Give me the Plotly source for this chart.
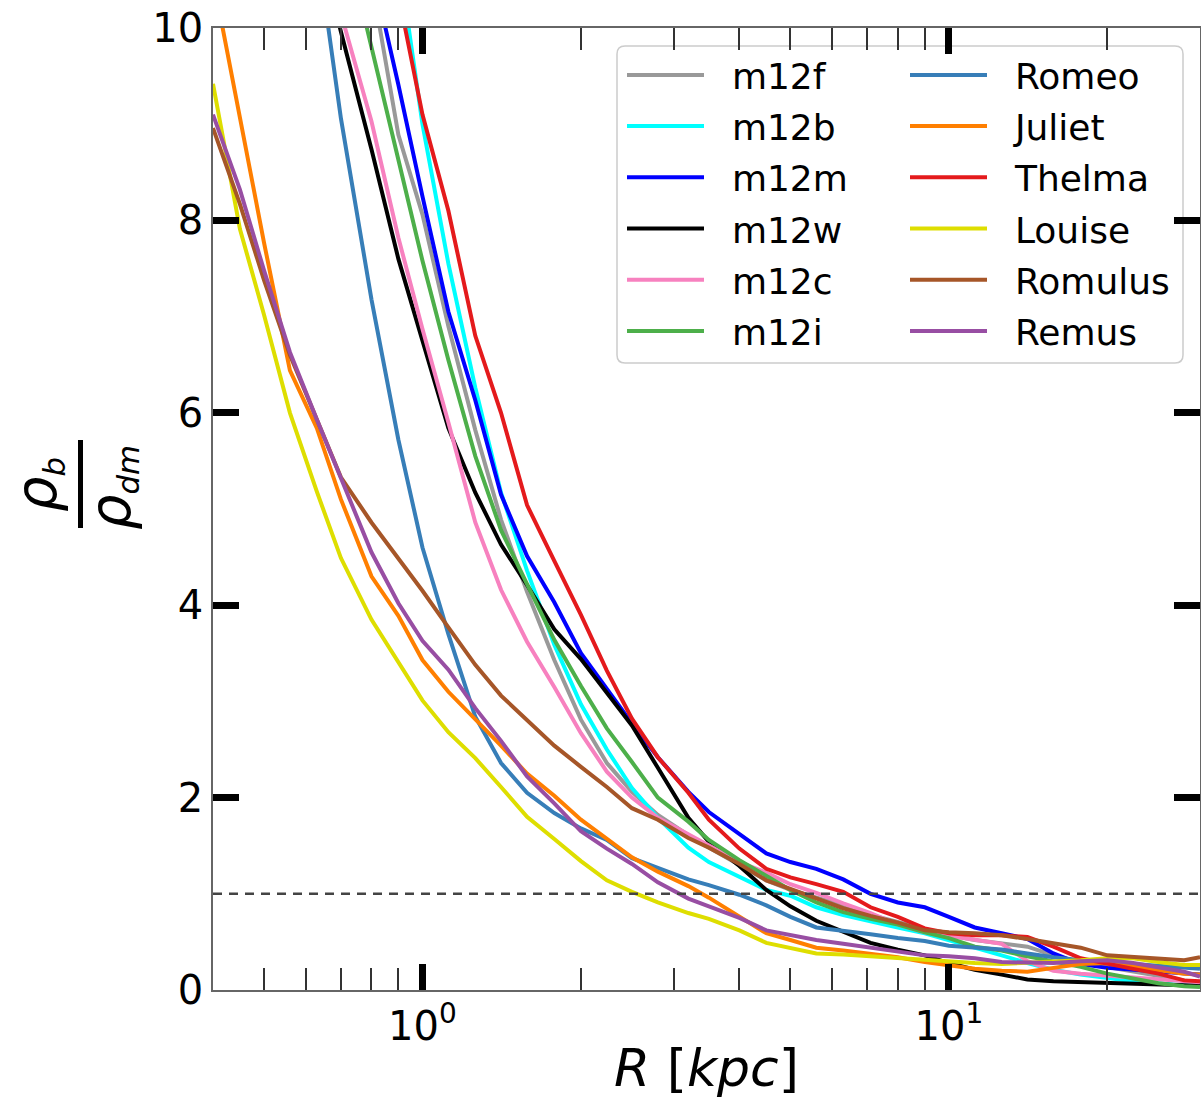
import plotly.graph_objects as go

# ---------------- data ----------------
R_kpc = [0.4, 0.45, 0.5, 0.56, 0.63, 0.7, 0.8, 0.9, 1.0, 1.12, 1.26, 1.41, 1.58,
         1.78, 2.0, 2.24, 2.5, 2.8, 3.2, 3.5, 4.0, 4.5, 5.0, 5.6, 6.3, 7.1, 8.0,
         9.0, 10.0, 11.2, 12.6, 14.1, 15.8, 17.8, 20.0, 22.4, 25.0, 28.0, 30.0]

m12f = [None, None, None, None, None, None,
        10.5, 8.89, 8.06, 6.9, 5.82, 4.89, 4.14, 3.43, 2.81, 2.36, 2.06, 1.82, 1.61,
        1.48, 1.3, 1.14, 1.04, 0.96, 0.88, 0.78, 0.71, 0.64, 0.57, 0.52, 0.48, 0.45,
        0.36, 0.29, 0.24, 0.19, 0.15, 0.1, 0.08]
m12b = [None, None, None, None, None, None, None,
        10.75, 9.0, 7.55, 6.26, 5.17, 4.36, 3.59, 2.97, 2.5, 2.1, 1.79, 1.48, 1.33,
        1.17, 1.04, 0.98, 0.86, 0.78, 0.72, 0.65, 0.59, 0.52, 0.44, 0.36, 0.28, 0.21,
        0.16, 0.12, 0.09, 0.07, 0.05, 0.05]
m12m = [None, None, None, None, None, None,
        10.64, 9.41, 8.25, 7.05, 6.13, 5.15, 4.51, 4.03, 3.5, 3.13, 2.77, 2.42, 2.06,
        1.85, 1.62, 1.42, 1.33, 1.26, 1.15, 1.0, 0.91, 0.86, 0.76, 0.65, 0.59, 0.53,
        0.38, 0.27, 0.23, 0.21, 0.19, 0.17, 0.16]
m12w = [None, None, None, None,
        10.98, 9.96, 8.74, 7.6, 6.75, 5.84, 5.17, 4.63, 4.21, 3.75, 3.44, 3.09, 2.75,
        2.31, 1.79, 1.54, 1.29, 1.04, 0.87, 0.72, 0.61, 0.49, 0.42, 0.36, 0.28, 0.21,
        0.16, 0.11, 0.09, 0.08, 0.07, 0.06, 0.05, 0.05, 0.05]
m12c = [None, None, None, None, None,
        10.15, 9.03, 7.82, 6.87, 5.9, 4.86, 4.16, 3.62, 3.15, 2.67, 2.27, 2.0, 1.79,
        1.62, 1.51, 1.33, 1.22, 1.1, 1.01, 0.9, 0.8, 0.68, 0.6, 0.56, 0.52, 0.48, 0.3,
        0.2, 0.17, 0.15, 0.13, 0.11, 0.09, 0.08]
m12i = [None, None, None, None, None,
        11.13, 9.82, 8.63, 7.58, 6.55, 5.55, 4.78, 4.22, 3.64, 3.16, 2.72, 2.37, 2.0,
        1.75, 1.56, 1.35, 1.19, 1.04, 0.91, 0.81, 0.74, 0.68, 0.6, 0.54, 0.45, 0.41,
        0.35, 0.3, 0.24, 0.17, 0.12, 0.07, 0.04, 0.03]
Romeo = [None, None, None, None,
         10.86, 9.06, 7.18, 5.72, 4.6, 3.7, 2.84, 2.36, 2.05, 1.84, 1.68, 1.56, 1.37,
         1.27, 1.15, 1.09, 0.99, 0.88, 0.76, 0.65, 0.62, 0.58, 0.54, 0.51, 0.46, 0.44,
         0.42, 0.38, 0.34, 0.31, 0.29, 0.27, 0.25, 0.23, 0.22]
Juliet = [10.52, 9.06, 7.77, 6.44, 5.84, 5.1, 4.3, 3.89, 3.43, 3.1, 2.82, 2.54, 2.25,
          2.02, 1.77, 1.57, 1.38, 1.23, 1.08, 0.96, 0.76, 0.59, 0.52, 0.44, 0.41, 0.37,
          0.34, 0.29, 0.26, 0.22, 0.2, 0.19, 0.23, 0.27, 0.28, 0.24, 0.2, 0.17, 0.16]
Thelma = [None, None, None, None, None, None, None,
          10.35, 9.1, 8.1, 6.8, 6.0, 5.04, 4.46, 3.9, 3.32, 2.82, 2.42, 2.05, 1.77,
          1.47, 1.26, 1.17, 1.1, 1.02, 0.86, 0.76, 0.64, 0.59, 0.57, 0.57, 0.55, 0.45,
          0.33, 0.27, 0.22, 0.17, 0.1, 0.09]
Louise = [9.42, 7.91, 7.02, 6.0, 5.18, 4.49, 3.85, 3.41, 3.01, 2.68, 2.41, 2.11, 1.8,
          1.57, 1.34, 1.14, 1.02, 0.91, 0.8, 0.74, 0.62, 0.49, 0.44, 0.38, 0.37, 0.35,
          0.33, 0.31, 0.29, 0.28, 0.27, 0.28, 0.3, 0.31, 0.33, 0.33, 0.29, 0.26, 0.26]
Romulus = [8.96, 8.17, 7.38, 6.6, 5.93, 5.33, 4.86, 4.49, 4.15, 3.77, 3.38, 3.06, 2.8,
           2.54, 2.32, 2.11, 1.89, 1.77, 1.58, 1.48, 1.31, 1.14, 1.05, 0.95, 0.85, 0.77,
           0.7, 0.62, 0.6, 0.59, 0.57, 0.53, 0.49, 0.44, 0.36, 0.34, 0.32, 0.31, 0.34]
Remus = [9.1, 8.32, 7.48, 6.63, 5.93, 5.33, 4.55, 4.02, 3.63, 3.33, 2.93, 2.59, 2.22,
         1.94, 1.65, 1.47, 1.31, 1.12, 0.95, 0.87, 0.75, 0.62, 0.57, 0.52, 0.48, 0.44,
         0.4, 0.36, 0.35, 0.33, 0.29, 0.28, 0.28, 0.3, 0.31, 0.28, 0.24, 0.19, 0.14]

series_names = ["m12f", "m12b", "m12m", "m12w", "m12c", "m12i",
                "Romeo", "Juliet", "Thelma", "Louise", "Romulus", "Remus"]
series_values = [m12f, m12b, m12m, m12w, m12c, m12i,
                 Romeo, Juliet, Thelma, Louise, Romulus, Remus]
series_colors = ["#999999", "#00ffff", "#0000ff", "#000000", "#f781bf", "#4daf4a",
                 "#377eb8", "#ff7f00", "#e41a1c", "#dede00", "#a65628", "#984ea3"]

x_range = [0.4, 30.0]
y_range = [0, 10]
y_ticks = [0, 2, 4, 6, 8, 10]
x_ticks = [1, 10]
x_ticktext = ["10<sup>0</sup>", "10<sup>1</sup>"]
x_minor = [0.4, 0.5, 0.6, 0.7, 0.8, 0.9, 2, 3, 4, 5, 6, 7, 8, 9, 20, 30]
reference_ratio = 1.0

# ---------------- layout helpers ----------------
W, H = 1201, 1109
ML, MR, MT, MB = 213, 1, 28, 119
PW, PH = W - ML - MR, H - MT - MB


def px_x(px):
    return (px - ML) / PW


def px_y(py):
    return (H - MB - py) / PH


FONT = "DejaVu Sans"
NBSP = "\u00a0"

fig = go.Figure()
for name, vals, col in zip(series_names, series_values, series_colors):
    fig.add_trace(go.Scatter(
        x=R_kpc, y=vals, mode="lines", name=NBSP * 2 + name,
        line=dict(color=col, width=4),
        legendgroup=name,
        legend="legend" if name.startswith("m12") else "legend2",
    ))

# dashed reference line at ratio = 1
fig.add_hline(y=reference_ratio, line=dict(color="#444444", width=2.5, dash="9px,7px"))

# legend frame
x0, x1 = px_x(617), px_x(1183)
y0, y1 = px_y(363), px_y(46)
rx, ry = 8 / PW, 8 / PH
path = (f"M{x0+rx},{y1} L{x1-rx},{y1} Q{x1},{y1} {x1},{y1-ry} "
        f"L{x1},{y0+ry} Q{x1},{y0} {x1-rx},{y0} L{x0+rx},{y0} Q{x0},{y0} {x0},{y0+ry} "
        f"L{x0},{y1-ry} Q{x0},{y1} {x0+rx},{y1} Z")
fig.add_shape(type="path", path=path, xref="paper", yref="paper",
              line=dict(color="#cccccc", width=1.5), fillcolor="rgba(255,255,255,0.8)",
              layer="below")

# y-axis label as a fraction rho_b / rho_dm
fig.add_annotation(text="<span style='font-size:56px'><i>ρ</i></span><sub><i>b</i></sub>",
                   textangle=-90,
                   x=px_x(38), y=px_y(485), xref="paper", yref="paper",
                   xanchor="center", yanchor="middle",
                   showarrow=False, font=dict(family=FONT, size=44, color="black"))
fig.add_annotation(text="<span style='font-size:56px'><i>ρ</i></span><sub><i>dm</i></sub>",
                   textangle=-90,
                   x=px_x(112), y=px_y(488), xref="paper", yref="paper",
                   xanchor="center", yanchor="middle",
                   showarrow=False, font=dict(family=FONT, size=44, color="black"))
fig.add_shape(type="line", xref="paper", yref="paper",
              x0=px_x(80.5), x1=px_x(80.5), y0=px_y(528), y1=px_y(440),
              line=dict(color="black", width=5))

axis_common = dict(
    showline=True, linecolor="#666666", linewidth=1.5, mirror="allticks",
    ticks="inside", ticklen=26, tickwidth=7, tickcolor="black",
    showgrid=False, zeroline=False,
    tickfont=dict(family=FONT, size=40, color="black"),
)

fig.update_xaxes(
    type="log", range=[-0.39794, 1.47712],
    tickmode="array", tickvals=x_ticks, ticktext=x_ticktext,
    minor=dict(ticks="inside", ticklen=22, tickwidth=2, tickcolor="#333333",
               tickmode="array", tickvals=x_minor, showgrid=False),
    title=dict(text="<i>R</i> [<i>kpc</i>]", font=dict(family=FONT, size=52, color="black"),
               standoff=2),
    **axis_common,
)
fig.update_yaxes(
    range=y_range, tickmode="array", tickvals=y_ticks,
    **axis_common,
)

legend_common = dict(
    bgcolor="rgba(0,0,0,0)", borderwidth=0,
    font=dict(family=FONT, size=36, color="black"),
    xanchor="left", yanchor="top", itemwidth=77, tracegroupgap=1.4,
    traceorder="grouped",
)
fig.update_layout(
    width=W, height=H,
    margin=dict(l=ML, r=MR, t=MT, b=MB, autoexpand=False),
    paper_bgcolor="white", plot_bgcolor="white",
    font=dict(family=FONT, color="black"),
    legend=dict(x=px_x(622), y=px_y(45), **legend_common),
    legend2=dict(x=px_x(905), y=px_y(45), **legend_common),
)

fig.write_html("out.html")
